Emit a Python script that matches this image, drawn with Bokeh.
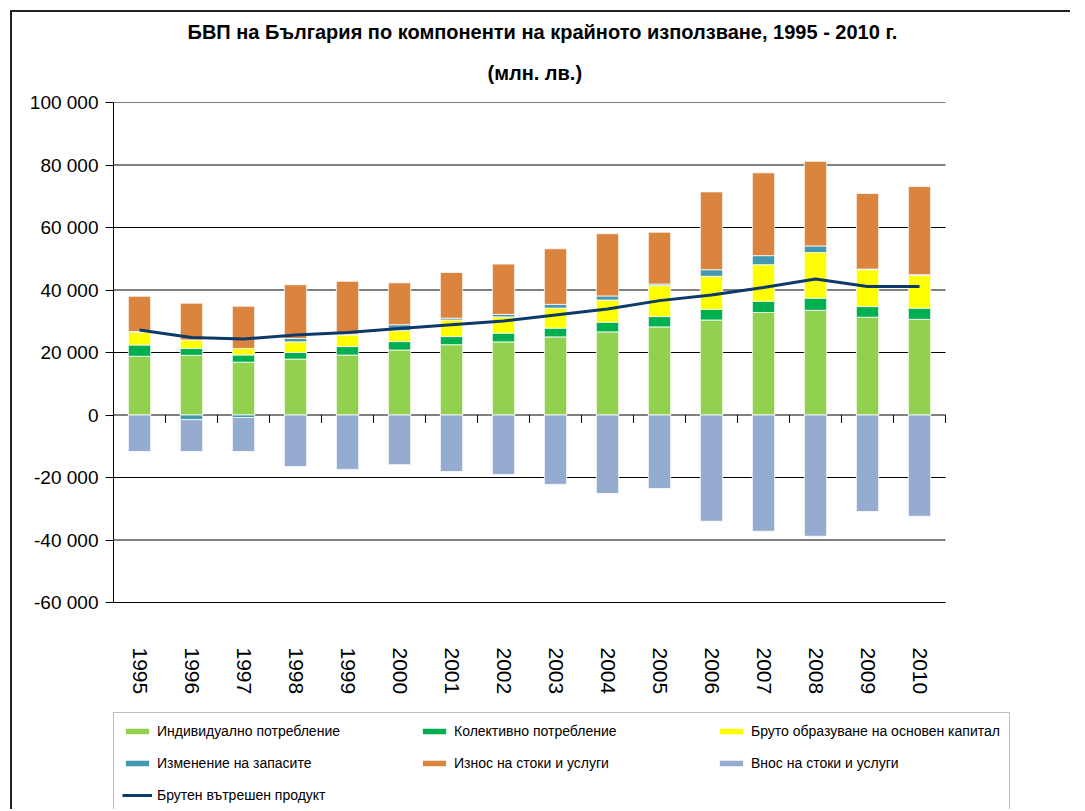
import math
from bokeh.plotting import figure
from bokeh.models import Legend, LegendItem, FixedTicker, Title, Range1d
from bokeh.core.properties import value
from bokeh.embed import file_html
from bokeh.resources import INLINE

# ---------------- data (млн. лв.) ----------------
years = [str(y) for y in range(1995, 2011)]
individual = [18800, 19100, 16900, 17900, 19200, 20800, 22500, 23400, 25000, 26600, 28200, 30400, 32800, 33500, 31300, 30600]
collective = [3600, 2200, 2300, 2100, 2700, 2700, 2600, 2800, 2800, 3100, 3300, 3400, 3600, 3900, 3400, 3600]
gross_fixed_capital = [4000, 2700, 2100, 3400, 3700, 3500, 5300, 5200, 6400, 7100, 9900, 10600, 11700, 14600, 11800, 10400]
stock_change = [300, -1500, -800, 1100, 300, 1900, 600, 800, 1200, 1300, 500, 2100, 2900, 2100, 200, 300]
exports = [11300, 11800, 13500, 17200, 16900, 13400, 14600, 16100, 17800, 19900, 16600, 24900, 26500, 27100, 24200, 28200]
imports = [-11700, -10200, -10900, -16500, -17400, -15900, -18100, -19000, -22200, -25100, -23500, -34000, -37200, -38800, -30900, -32400]
gdp = [27200, 24800, 24300, 25600, 26400, 27700, 28900, 30100, 32000, 33900, 36600, 38400, 40800, 43500, 41100, 41100]

series_names = ["Индивидуално потребление", "Колективно потребление", "Бруто образуване на основен капитал",
                "Изменение на запасите", "Износ на стоки и услуги", "Внос на стоки и услуги"]
gdp_name = "Брутен вътрешен продукт"
colors = ["#92D050", "#00B050", "#FFFF00", "#4399AF", "#DB843D", "#95ABD0"]
gdp_color = "#0D3A6B"

y_ticks = [-60000, -40000, -20000, 0, 20000, 40000, 60000, 80000, 100000]
y_tick_labels = ["-60 000", "-40 000", "-20 000", "0", "20 000", "40 000", "60 000", "80 000", "100 000"]

title_main = "БВП на България по компоненти на крайното използване, 1995 - 2010 г."
title_sub = "(млн. лв.)"

FONT = "Liberation Sans"

# ---------------- layout constants (pixels) ----------------
n = len(years)
CAT_PX = 52            # width of one year slot
PLOT_H = 500           # height of the -60 000 .. 100 000 band
RIGHT_PAD = 80         # frame space right of the last slot (room for the legend)
FRAME_H = 707          # frame reaches the page bottom so the legend shows
y_per_px = (y_ticks[-1] - y_ticks[0]) / PLOT_H

idx = [i + 0.5 for i in range(n)]
bounds = [i + 1 for i in range(n)]

p = figure(frame_width=CAT_PX * n + RIGHT_PAD, frame_height=FRAME_H,
           min_border_left=101, min_border_right=45, min_border_top=90, min_border_bottom=0,
           x_range=Range1d(0, n + RIGHT_PAD / CAT_PX),
           y_range=Range1d(y_ticks[-1] - FRAME_H * y_per_px, y_ticks[-1]),
           output_backend="svg", toolbar_location=None, tools="", title=None)
p.outline_line_color = None
p.background_fill_color = "white"
p.border_fill_color = "white"
p.styles = {"border-left": "2px solid #222", "border-top": "2px solid #222",
            "margin-left": "10px", "margin-top": "10px"}

p.add_layout(Title(text=title_sub, align="left", text_font=FONT, text_color="black",
                   text_font_size="20px", text_font_style="bold", offset=374, standoff=38), "above")
p.add_layout(Title(text=title_main, align="left", text_font=FONT, text_color="black",
                   text_font_size="20px", text_font_style="bold", offset=74, standoff=-5), "above")

# horizontal grid lines across the year slots only
p.xgrid.visible = False
p.ygrid.visible = False
p.segment(x0=[0] * len(y_ticks), x1=[n] * len(y_ticks), y0=y_ticks, y1=y_ticks,
          line_color="black", line_width=1)

# y axis
p.yaxis.bounds = (y_ticks[0], y_ticks[-1])
p.yaxis.ticker = FixedTicker(ticks=y_ticks)
p.yaxis.major_label_overrides = {t: l for t, l in zip(y_ticks, y_tick_labels)}
p.yaxis.axis_line_color = "black"
p.yaxis.major_tick_line_color = "black"
p.yaxis.major_tick_out = 8
p.yaxis.major_tick_in = 0
p.yaxis.minor_tick_line_color = None
p.yaxis.major_label_standoff = 7
p.yaxis.major_label_text_font = FONT
p.yaxis.major_label_text_font_size = "19px"
p.yaxis.major_label_text_color = "black"

p.xaxis.visible = False

# stacked bars (positive up, negative down)
pos_base = [0] * n
neg_base = [0] * n
renderers = []
for vals, col in zip([individual, collective, gross_fixed_capital, stock_change, exports, imports], colors):
    bottoms, tops = [], []
    for i, v in enumerate(vals):
        if v >= 0:
            bottoms.append(pos_base[i]); tops.append(pos_base[i] + v); pos_base[i] += v
        else:
            tops.append(neg_base[i]); bottoms.append(neg_base[i] + v); neg_base[i] += v
    r = p.vbar(x=idx, bottom=bottoms, top=tops, width=0.43, fill_color=col,
               line_color="white", line_width=0.8)
    renderers.append(r)

# tick marks on the zero line between year slots
p.segment(x0=bounds, y0=[0] * n, x1=bounds, y1=[-8 * y_per_px] * n, line_color="black", line_width=1)

gdp_r = p.line(idx, gdp, line_color=gdp_color, line_width=3)

# year labels, rotated, below the -60 000 line
p.text(x=idx, y=[y_ticks[0]] * n, text=years, angle=-math.pi / 2, y_offset=45,
       text_align="left", text_baseline="middle", text_font=value(FONT),
       text_font_size="21px", text_color="black")

items = [LegendItem(label=nm, renderers=[r]) for nm, r in zip(series_names, renderers)]
items.append(LegendItem(label=gdp_name, renderers=[gdp_r]))
legend = Legend(items=items, orientation="horizontal", ncols=3, location=(0, -5),
                glyph_width=30, glyph_height=8, label_standoff=5, label_width=250,
                label_height=20, spacing=12, padding=8, margin=0,
                label_text_font=FONT, label_text_font_size="14px",
                label_text_color="black",
                border_line_color="#808080", border_line_width=1,
                background_fill_color="white", background_fill_alpha=1)
p.add_layout(legend, "center")

open("out.html", "w").write(file_html(p, INLINE))
